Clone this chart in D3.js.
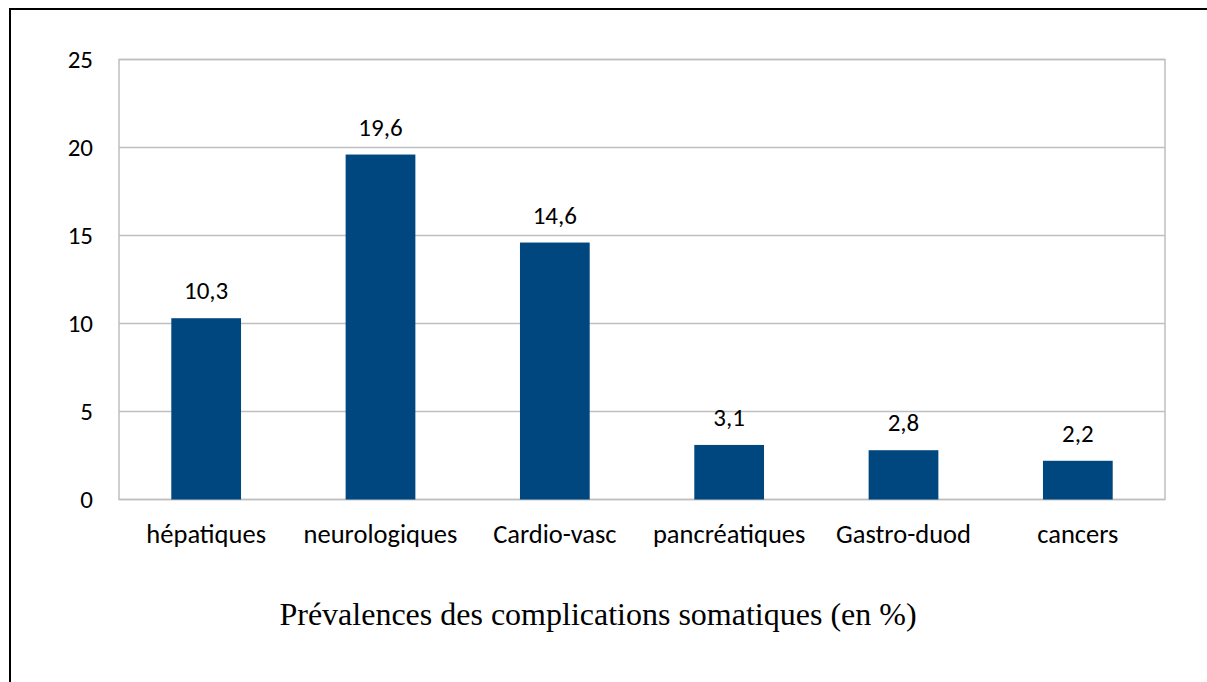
<!DOCTYPE html>
<html><head><meta charset="utf-8">
<script src="https://cdn.jsdelivr.net/npm/d3@7"></script>
<style>body{margin:0;background:#fff;}svg{display:block;}</style>
</head><body><svg id="c" width="1207" height="682"></svg>
<script>
const categories = ["hépatiques","neurologiques","Cardio-vasc","pancréatiques","Gastro-duod","cancers"];
const values = [10.3,19.6,14.6,3.1,2.8,2.2];
const valueLabels = ["10,3","19,6","14,6","3,1","2,8","2,2"];
const yTicks = [0,5,10,15,20,25];
const title = "Prévalences des complications somatiques (en %)";

const svg = d3.select("#c");
const m = {l:119, r:1165, t:59.5, b:499.5};
svg.append("rect").attr("x",10).attr("y",9).attr("width",1220).attr("height",700)
  .attr("fill","none").attr("stroke","#000").attr("stroke-width",2);

const x = d3.scaleBand().domain(categories).range([m.l,m.r]).paddingInner(0.6).paddingOuter(0.3);
const y = d3.scaleLinear().domain([0,25]).range([m.b,m.t]);
const font = "Carlito, Lato, sans-serif";
const fs = 25;

// gridlines
svg.append("g").selectAll("line").data(yTicks).join("line")
  .attr("x1",m.l).attr("x2",m.r).attr("y1",d=>y(d)).attr("y2",d=>y(d))
  .attr("stroke","#bfbfbf").attr("stroke-width",1.3);
svg.append("rect").attr("x",m.l).attr("y",m.t).attr("width",m.r-m.l).attr("height",m.b-m.t)
  .attr("fill","none").attr("stroke","#bfbfbf").attr("stroke-width",1.5);

// y axis
const ya = d3.axisLeft(y).tickValues(yTicks).tickSize(0).tickPadding(26);
const yg = svg.append("g").attr("transform",`translate(${m.l},0)`).call(ya);
yg.select(".domain").remove();
yg.selectAll("text").attr("font-family",font).attr("font-size",fs).attr("fill","#000");

// x axis
const xa = d3.axisBottom(x).tickSize(0).tickPadding(25);
const xg = svg.append("g").attr("transform",`translate(0,${m.b})`).call(xa);
xg.select(".domain").remove();
xg.selectAll("text").attr("font-family",font).attr("font-size",26.5).attr("fill","#000");

// bars
svg.append("g").selectAll("rect").data(values).join("rect")
  .attr("x",(d,i)=>x(categories[i])).attr("width",x.bandwidth())
  .attr("y",d=>y(d)).attr("height",d=>y(0)-y(d)).attr("fill","#00467f");

svg.append("g").selectAll("text").data(values).join("text")
  .attr("x",(d,i)=>x(categories[i])+x.bandwidth()/2).attr("y",d=>y(d)-19)
  .attr("text-anchor","middle").attr("font-family",font).attr("font-size",fs)
  .text((d,i)=>valueLabels[i]);

svg.append("text").attr("x",598).attr("y",625).attr("text-anchor","middle")
  .attr("font-family","Liberation Serif, Times New Roman, serif").attr("font-size",32)
  .text(title);
</script></body></html>
